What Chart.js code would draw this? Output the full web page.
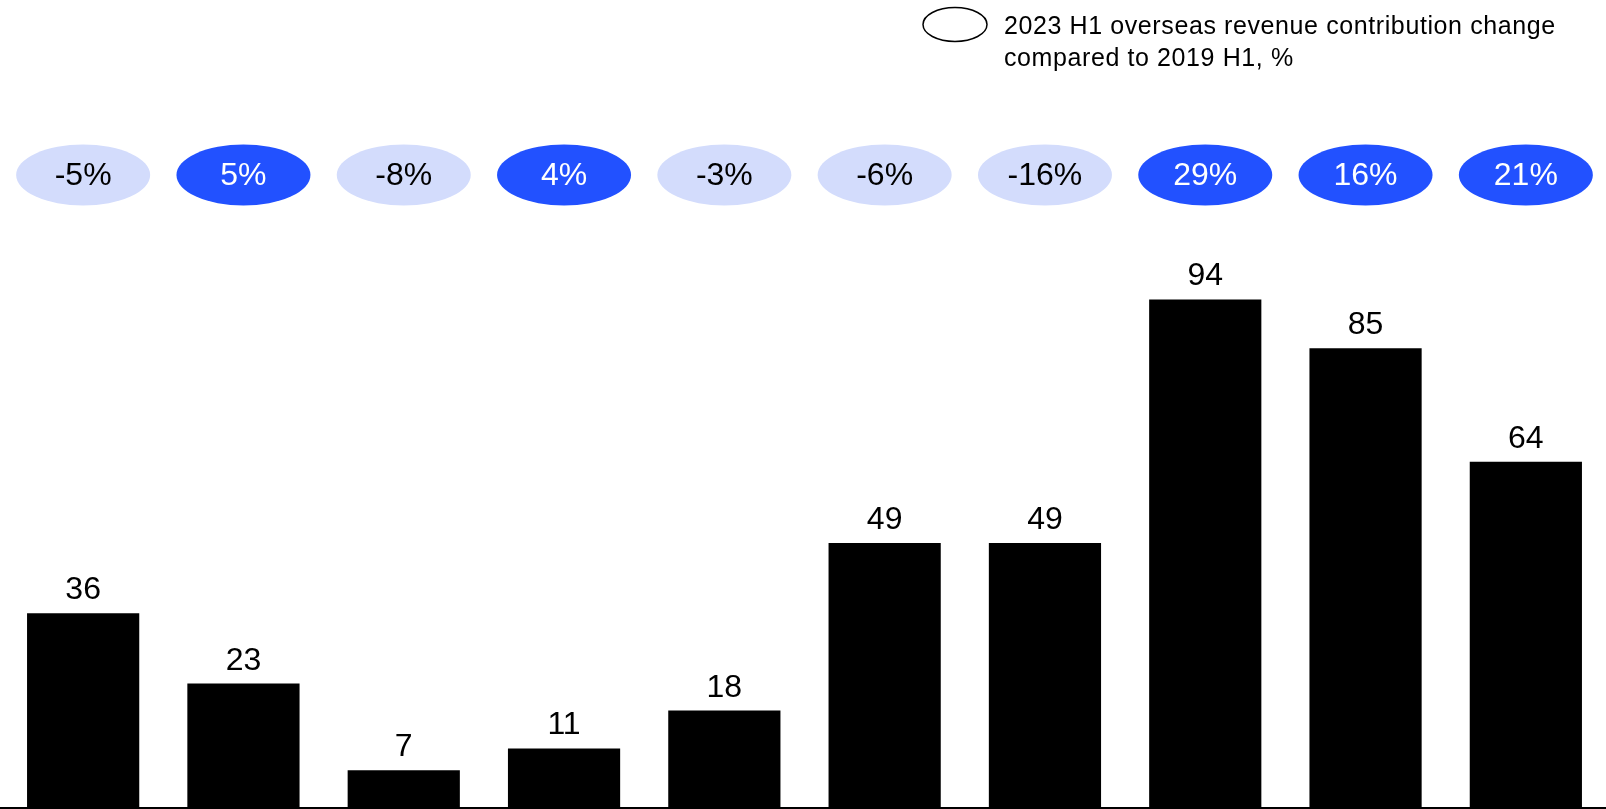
<!DOCTYPE html>
<html lang="en">
<head>
    <meta charset="UTF-8">
    <title>Overseas revenue</title>
    <script src="https://cdn.jsdelivr.net/npm/chart.js"></script>
    <style>
        body {
            margin: 0;
            background: #fff;
        }
        canvas {
            display: block;
        }
    </style>
</head>
<body>
    <canvas id="myChart" width="1606" height="809"></canvas>

    <script>
        // bar values and the change figure shown in the bubble above each bar
        const categories = ['1', '2', '3', '4', '5', '6', '7', '8', '9', '10'];
        const revenue = [36, 23, 7, 11, 18, 49, 49, 94, 85, 64];
        const contributionChange = [-5, 5, -8, 4, -3, -6, -16, 29, 16, 21];
        const legendLines = ['2023 H1 overseas revenue contribution change', 'compared to 2019 H1, %'];

        const FONT = '"Liberation Sans", Arial, sans-serif';
        const BLUE = '#2251ff';
        const PALE = '#d3dcfc';

        // value labels, the row of bubbles, the legend and the baseline
        const decorations = {
            id: 'decorations',
            afterDatasetsDraw(chart) {
                const ctx = chart.ctx;
                const area = chart.chartArea;
                const xs = chart.scales.x;
                const meta = chart.getDatasetMeta(0);
                ctx.save();

                // numbers over the bars
                ctx.fillStyle = '#000';
                ctx.font = '32px ' + FONT;
                ctx.textAlign = 'center';
                ctx.textBaseline = 'alphabetic';
                meta.data.forEach((bar, i) => {
                    ctx.fillText(String(revenue[i]), bar.x, bar.y - 14);
                });

                // bubbles
                const bubbleY = area.top - 92;
                contributionChange.forEach((v, i) => {
                    const x = xs.getPixelForValue(i);
                    ctx.beginPath();
                    ctx.ellipse(x, bubbleY, 67, 30.5, 0, 0, Math.PI * 2);
                    ctx.fillStyle = v > 0 ? BLUE : PALE;
                    ctx.fill();
                    ctx.fillStyle = v > 0 ? '#fff' : '#000';
                    ctx.font = '32px ' + FONT;
                    ctx.textBaseline = 'middle';
                    ctx.fillText(v + '%', x, bubbleY + 1);
                });

                // legend
                ctx.beginPath();
                ctx.ellipse(955, 24.5, 32, 17, 0, 0, Math.PI * 2);
                ctx.strokeStyle = '#000';
                ctx.lineWidth = 1.5;
                ctx.stroke();
                ctx.fillStyle = '#000';
                ctx.font = '25px ' + FONT;
                ctx.letterSpacing = '0.6px';
                ctx.textAlign = 'left';
                ctx.textBaseline = 'alphabetic';
                legendLines.forEach((line, i) => {
                    ctx.fillText(line, 1004, 34 + i * 32);
                });
                ctx.letterSpacing = '0px';

                // baseline
                ctx.beginPath();
                ctx.moveTo(0, area.bottom);
                ctx.lineTo(chart.width, area.bottom);
                ctx.lineWidth = 2;
                ctx.stroke();
                ctx.restore();
            }
        };

        const ctx = document.getElementById('myChart').getContext('2d');
        const myChart = new Chart(ctx, {
            type: 'bar',
            data: {
                labels: categories,
                datasets: [{
                    data: revenue,
                    backgroundColor: '#000',
                    borderWidth: 0,
                    barPercentage: 0.7,
                    categoryPercentage: 1
                }]
            },
            options: {
                responsive: false,
                animation: false,
                layout: {
                    padding: { top: 267, bottom: 1, left: 3, right: -4 }
                },
                plugins: {
                    legend: { display: false },
                    tooltip: { enabled: false }
                },
                scales: {
                    x: { display: false },
                    y: { display: false, min: 0, max: 100 }
                }
            },
            plugins: [decorations]
        });
    </script>
</body>
</html>
